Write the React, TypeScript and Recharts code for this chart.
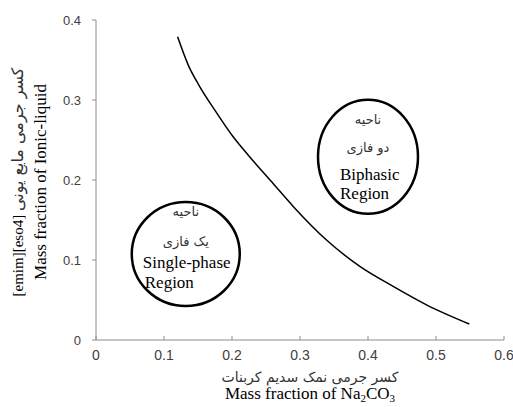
import React from 'react';
import { LineChart, Line, XAxis, YAxis, ReferenceDot } from 'recharts';

// binodal curve: Na2CO3 mass fraction vs ionic liquid mass fraction
const saltFraction = [0.12, 0.136, 0.151, 0.175, 0.2, 0.224, 0.261, 0.29, 0.339, 0.388, 0.437, 0.486, 0.549];
const ilFraction = [0.379, 0.343, 0.319, 0.287, 0.256, 0.231, 0.195, 0.167, 0.125, 0.092, 0.067, 0.044, 0.02];

const xTicks = [0, 0.1, 0.2, 0.3, 0.4, 0.5, 0.6];
const yTicks = [0, 0.1, 0.2, 0.3, 0.4];

const regions = [
  { x: 0.4, y: 0.229, fa1: 'ناحیه', fa2: 'دو فازی', en1: 'Biphasic', en2: 'Region' },
  { x: 0.132, y: 0.1075, fa1: 'ناحیه', fa2: 'یک فازی', en1: 'Single-phase', en2: 'Region' },
];

const data = saltFraction.map((x, i) => ({ x, y: ilFraction[i] }));

const serif = '"Liberation Serif", "Times New Roman", serif';
const sans = '"Liberation Sans", Arial, sans-serif';
const faFont = '"DejaVu Sans", sans-serif';

const XTick = (props: any) => {
  const { x, y, payload } = props;
  return (
    <g>
      <line x1={x} x2={x} y1={y - 4} y2={y} stroke="#8c8c8c" />
      <text x={x} y={y + 20} textAnchor="middle" fontSize={14} fill="#404040" fontFamily={sans}>
        {payload.value}
      </text>
    </g>
  );
};

const XLabel = (props: any) => {
  const vb = props.viewBox;
  const cx = vb.x + vb.width / 2 + 10;
  return (
    <g>
      <text x={cx} y={382} textAnchor="middle" fontSize={14} fill="#333" fontFamily={faFont}>
        کسر جرمی نمک سدیم کربنات
      </text>
      <text x={cx} y={399} textAnchor="middle" fontSize={17} fill="#000" fontFamily={serif}>
        Mass fraction of Na<tspan fontSize={11} dy={3}>2</tspan>
        <tspan dy={-3}>CO</tspan>
        <tspan fontSize={11} dy={3}>3</tspan>
      </text>
    </g>
  );
};

const YLabel = (props: any) => {
  const vb = props.viewBox;
  const cy = vb.y + vb.height / 2 + 2;
  return (
    <g>
      <text
        x={23}
        y={cy}
        transform={`rotate(-90 23 ${cy})`}
        textAnchor="middle"
        fontSize={15}
        fill="#000"
        fontFamily={serif}
      >
        <tspan>[emim][eso4] </tspan>
        <tspan fontFamily={faFont} fontSize={16} fill="#333">کسر جرمی مایع یونی</tspan>
      </text>
      <text
        x={46}
        y={cy}
        transform={`rotate(-90 46 ${cy})`}
        textAnchor="middle"
        fontSize={17}
        fill="#000"
        fontFamily={serif}
      >
        Mass fraction of Ionic-liquid
      </text>
    </g>
  );
};

const BiphasicShape = (props: any) => {
  const { cx, cy } = props;
  return (
    <g>
      <ellipse cx={cx} cy={cy} rx={50} ry={57} fill="none" stroke="#000" strokeWidth={2.5} />
      <text x={cx} y={cy - 33} textAnchor="middle" fontSize={13} fill="#333" fontFamily={faFont}>{regions[0].fa1}</text>
      <text x={cx} y={cy - 5} textAnchor="middle" fontSize={13} fill="#333" fontFamily={faFont}>{regions[0].fa2}</text>
      <text x={cx - 28} y={cy + 23} fontSize={17} fill="#000" fontFamily={serif}>{regions[0].en1}</text>
      <text x={cx - 28} y={cy + 42} fontSize={17} fill="#000" fontFamily={serif}>{regions[0].en2}</text>
    </g>
  );
};

const SingleShape = (props: any) => {
  const { cx, cy } = props;
  return (
    <g>
      <ellipse cx={cx} cy={cy} rx={54} ry={52} fill="none" stroke="#000" strokeWidth={2.5} />
      <text x={cx} y={cy - 38} textAnchor="middle" fontSize={13} fill="#333" fontFamily={faFont}>{regions[1].fa1}</text>
      <text x={cx} y={cy - 8} textAnchor="middle" fontSize={13} fill="#333" fontFamily={faFont}>{regions[1].fa2}</text>
      <text x={cx - 43} y={cy + 14} fontSize={17} fill="#000" fontFamily={serif}>{regions[1].en1}</text>
      <text x={cx - 41} y={cy + 34} fontSize={17} fill="#000" fontFamily={serif}>{regions[1].en2}</text>
    </g>
  );
};

export default function App() {
  return (
    <div style={{ position: 'absolute', left: 0, top: 0, width: 513, height: 407, background: '#fff' }}>
      <LineChart width={513} height={407} data={data} margin={{ top: 20, right: 9, bottom: 37, left: 36 }}>
        <XAxis
          dataKey="x"
          type="number"
          domain={[0, 0.6]}
          ticks={xTicks}
          interval={0}
          height={30}
          stroke="#8c8c8c"
          tickLine={false}
          tickSize={0}
          tickMargin={0}
          tick={<XTick />}
          label={{ content: <XLabel /> } as any}
        />
        <YAxis
          dataKey="y"
          type="number"
          domain={[0, 0.4]}
          ticks={yTicks}
          interval={0}
          width={60}
          stroke="#8c8c8c"
          tickSize={4}
          tickMargin={11}
          tick={{ fontSize: 13, fill: '#404040', fontFamily: sans }}
          label={{ content: <YLabel /> } as any}
        />
        <Line
          type="monotone"
          dataKey="y"
          stroke="#000"
          strokeWidth={1.5}
          dot={false}
          isAnimationActive={false}
        />
        <ReferenceDot x={regions[0].x} y={regions[0].y} shape={<BiphasicShape />} />
        <ReferenceDot x={regions[1].x} y={regions[1].y} shape={<SingleShape />} />
      </LineChart>
    </div>
  );
}
